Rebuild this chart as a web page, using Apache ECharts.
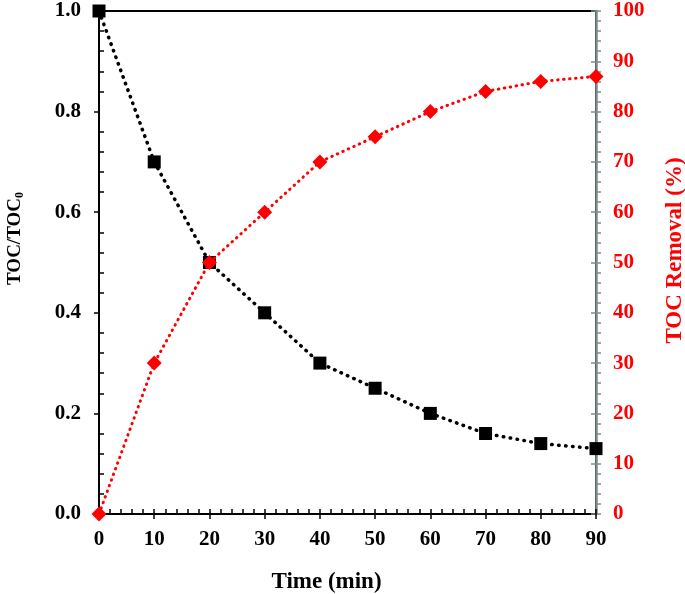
<!DOCTYPE html>
<html><head><meta charset="utf-8">
<script src="https://cdn.jsdelivr.net/npm/echarts@6/dist/echarts.min.js"></script>
<style>html,body{margin:0;padding:0;background:#fff}#c{width:685px;height:594px}</style>
</head><body><div id="c"></div>
<script>
const times = [0, 10, 20, 30, 40, 50, 60, 70, 80, 90];
const tocRatio = [1.0, 0.7, 0.5, 0.4, 0.3, 0.25, 0.2, 0.16, 0.14, 0.13];
const tocRemoval = [0, 30, 50, 60, 70, 75, 80, 84, 86, 87];

const FONT = 'Liberation Serif';
const GRAY = '#7d8b8b';
const lab = {fontFamily: FONT, fontWeight: 'bold', fontSize: 21};

const chart = echarts.init(document.getElementById('c'));
chart.setOption({
  animation: false,
  grid: {left: 99, right: 89, top: 11, bottom: 80, containLabel: false, outerBoundsMode: 'none',
         show: true, borderColor: '#000', borderWidth: 2, backgroundColor: 'transparent'},
  xAxis: [
    {type: 'value', min: 0, max: 90, interval: 10, position: 'bottom',
     axisLine: {lineStyle: {color: '#000', width: 2}},
     axisTick: {show: true, inside: false, length: 5, lineStyle: {color: '#000', width: 1.5}},
     minorTick: {show: false},
     splitLine: {show: false},
     axisLabel: Object.assign({color: '#000', margin: 15}, lab),
     name: 'Time (min)', nameLocation: 'middle', nameGap: 57,
     nameTextStyle: {color: '#000', fontFamily: FONT, fontWeight: 'bold', fontSize: 23, padding: [0, 42, 0, 0]}},
    {type: 'value', min: 0, max: 90, interval: 10, position: 'bottom',
     axisLine: {show: false},
     axisTick: {show: true, inside: true, length: 5, lineStyle: {color: '#000', width: 1.5}},
     minorTick: {show: true, splitNumber: 5, length: 5, lineStyle: {color: '#000', width: 1.5}},
     splitLine: {show: false}, axisLabel: {show: false}}
  ],
  yAxis: [
    {type: 'value', min: 0, max: 1, interval: 0.2, position: 'left',
     axisLine: {show: true, lineStyle: {color: '#000', width: 2}},
     axisTick: {show: true, inside: false, length: 5, lineStyle: {color: '#000', width: 1.5}},
     splitLine: {show: false},
     axisLabel: Object.assign({color: '#000', margin: 18, formatter: v => v.toFixed(1)}, lab),
     name: '{m|TOC/TOC}{s|0}', nameLocation: 'middle', nameGap: 73,
     nameTextStyle: {padding: [0, 0, 0, 48], rich: {
       m: {color: '#000', fontFamily: FONT, fontWeight: 'bold', fontSize: 19},
       s: {fontFamily: FONT, fontWeight: 'bold', fontSize: 12, color: '#000', verticalAlign: 'bottom', padding: [9, 0, 0, 0]}}}},
    {type: 'value', min: 0, max: 1, interval: 0.2, position: 'left',
     axisLine: {show: false},
     axisTick: {show: false, inside: true},
     minorTick: {show: true, splitNumber: 5, length: 5, lineStyle: {color: '#000', width: 1.5}},
     splitLine: {show: false}, axisLabel: {show: false}},
    {type: 'value', min: 0, max: 100, interval: 10, position: 'right',
     axisLine: {show: true, lineStyle: {color: GRAY, width: 2.5}},
     axisTick: {show: true, inside: false, length: 5, lineStyle: {color: GRAY, width: 1.5}},
     minorTick: {show: true, splitNumber: 5, length: 5, lineStyle: {color: GRAY, width: 1.5}},
     splitLine: {show: false},
     axisLabel: Object.assign({color: '#ff0000', margin: 17}, lab),
     name: 'TOC Removal (%)', nameLocation: 'middle', nameGap: 68, nameRotate: 90,
     nameTextStyle: {color: '#ff0000', fontFamily: FONT, fontWeight: 'bold', fontSize: 23, padding: [0, 0, 0, 24]}},
    {type: 'value', min: 0, max: 100, interval: 10, position: 'right',
     axisLine: {show: false},
     axisTick: {show: true, inside: true, length: 5, lineStyle: {color: GRAY, width: 1.5}},
     splitLine: {show: false}, axisLabel: {show: false}}
  ],
  series: [
    {type: 'line', xAxisIndex: 0, yAxisIndex: 0,
     data: times.map((t, i) => [t, tocRatio[i]]),
     symbol: 'rect', symbolSize: 13, itemStyle: {color: '#000'},
     lineStyle: {color: '#000', width: 3.5, type: [0.5, 6.5], cap: 'round'}, z: 3},
    {type: 'line', xAxisIndex: 0, yAxisIndex: 2,
     data: times.map((t, i) => [t, tocRemoval[i]]),
     symbol: 'diamond', symbolSize: [15, 15], itemStyle: {color: '#ff0000'},
     lineStyle: {color: '#ff0000', width: 3, type: [0.5, 5.5], cap: 'round'}, z: 4}
  ]
});
</script></body></html>
